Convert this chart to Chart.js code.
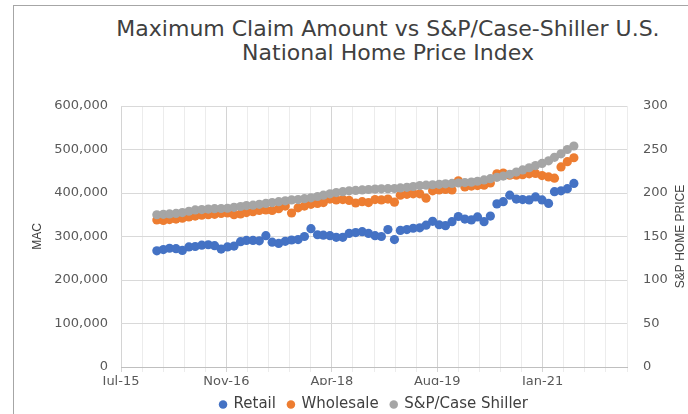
<!DOCTYPE html>
<html>
<head>
<meta charset="utf-8">
<script src="https://cdn.jsdelivr.net/npm/chart.js@4.4.1/dist/chart.umd.min.js"></script>
<style>
  html, body { margin: 0; padding: 0; background: #fff; overflow: hidden; }
  #wrap { position: relative; width: 688px; height: 422px; }
  #frame { position: absolute; left: 13px; top: 5px; width: 700px; height: 450px;
           border-left: 1px solid #a6a6a6; border-top: 1px solid #a6a6a6; }
  #title { position: absolute; left: 88px; right: 0; top: 17px; text-align: center;
           font: 22px/24px "DejaVu Sans", sans-serif; color: #404040; }
  canvas { position: absolute; left: 0; top: 0; }
</style>
</head>
<body>
<div id="wrap">
  <div id="frame"></div>
  <div id="title">Maximum Claim Amount vs S&amp;P/Case-Shiller U.S.<br>National Home Price Index</div>
  <canvas id="chart" width="688" height="422"></canvas>
</div>
<script>
// monthly values, Jan 2016 .. Jun 2021
const firstYear = 2016;
const retail = [267000, 270000, 273000, 272000, 268000, 276000, 277000, 280000, 281000, 279000,
    271000, 276000, 278000, 288000, 291000, 291000, 290000, 302000, 287000, 284000,
    289000, 292000, 293000, 300000, 318000, 304000, 303000, 302000, 298000, 298000,
    307000, 309000, 311000, 307000, 302000, 300000, 316000, 293000, 314000, 316000,
    319000, 320000, 326000, 335000, 327000, 325000, 334000, 346000, 340000, 338000,
    345000, 334000, 347000, 375000, 380000, 395000, 386000, 385000, 384000, 391000,
    384000, 376000, 403000, 405000, 410000, 422000];
const wholesale = [338000, 337000, 339000, 340000, 342000, 345000, 347000, 349000, 350000, 351000,
    353000, 354000, 350000, 352000, 355000, 357000, 360000, 361000, 360000, 364000,
    370000, 354000, 366000, 370000, 374000, 376000, 378000, 386000, 384000, 385000,
    383000, 377000, 380000, 378000, 385000, 384000, 386000, 379000, 395000, 397000,
    398000, 398000, 388000, 405000, 407000, 408000, 407000, 428000, 414000, 416000,
    417000, 418000, 423000, 444000, 446000, 441000, 441000, 442000, 444000, 445000,
    440000, 437000, 434000, 460000, 472000, 481000];
const caseShiller = [175, 175.5, 176, 176.5, 177.5, 179, 180.5, 181, 181.5, 182,
    182.2, 182.5, 183.5, 184.5, 185.5, 186, 187, 188, 189, 190,
    191, 192, 192.5, 193.5, 194.5, 196, 197.5, 199, 200.5, 201.5,
    202.5, 203, 203.5, 204, 204.5, 204.8, 205, 205.2, 205.8, 206.5,
    207.5, 208.5, 209, 209.5, 210, 210.5, 211, 211.5, 212, 212.5,
    213.5, 215, 216.5, 218, 219.5, 221.5, 224, 226.5, 229, 231.5,
    234, 237, 241, 245, 250, 254];

// x axis in Excel day serials
const xMin = 42200;
const xMax = 44600;
const xMajorTicks = [42200, 42700, 43200, 43700, 44200];
const xTickLabels = ['Jul-15', 'Nov-16', 'Apr-18', 'Aug-19', 'Jan-21'];
const leftTitle = 'MAC';
const rightTitle = 'S&P HOME PRICE';

function monthSerial(i) {
    return Date.UTC(firstYear, i, 1) / 86400000 + 25569;
}

function points(values) {
    return values.map((v, i) => ({ x: monthSerial(i), y: v }));
}

const tickFont = { family: 'DejaVu Sans', size: 13 };

const axisTitles = {
    id: 'axisTitles',
    afterDraw(chart) {
        const { ctx, chartArea } = chart;
        const cy = (chartArea.top + chartArea.bottom) / 2;
        ctx.save();
        ctx.fillStyle = '#404040';
        ctx.font = '12px "Liberation Sans Narrow", sans-serif';
        ctx.textAlign = 'center';
        ctx.textBaseline = 'middle';
        [[chartArea.left - 83, leftTitle], [chartArea.right + 54, rightTitle]].forEach(([x, t]) => {
            ctx.save();
            ctx.translate(x, cy);
            ctx.rotate(-Math.PI / 2);
            ctx.fillText(t, 0, 0);
            ctx.restore();
        });
        ctx.restore();
    }
};

new Chart(document.getElementById('chart'), {
    type: 'scatter',
    data: {
        datasets: [
            { label: 'Retail', data: points(retail), yAxisID: 'y', backgroundColor: '#4472C4', order: 3 },
            { label: 'Wholesale', data: points(wholesale), yAxisID: 'y', backgroundColor: '#ED7D31', order: 2 },
            { label: 'S&P/Case Shiller', data: points(caseShiller), yAxisID: 'y2', backgroundColor: '#A5A5A5', order: 1 }
        ]
    },
    options: {
        responsive: false,
        animation: false,
        layout: { padding: { top: 106, left: 0, right: 0, bottom: 0 } },
        elements: { point: { radius: 4.6, borderWidth: 0, hoverRadius: 4.6 } },
        plugins: {
            legend: {
                position: 'bottom',
                fullSize: false,
                labels: {
                    usePointStyle: true,
                    pointStyle: 'circle',
                    boxWidth: 6,
                    boxHeight: 6,
                    padding: 12,
                    color: '#404040',
                    font: { family: 'DejaVu Sans', size: 15 },
                    sort: (a, b) => a.datasetIndex - b.datasetIndex
                }
            },
            tooltip: { enabled: false }
        },
        scales: {
            x: {
                type: 'linear',
                min: xMin,
                max: xMax,
                afterBuildTicks: axis => {
                    const ticks = [];
                    for (let v = xMin; v <= xMax; v += 100) ticks.push({ value: v });
                    axis.ticks = ticks;
                },
                afterFit: s => { s.height = 18; },
                ticks: {
                    autoSkip: false,
                    maxRotation: 0,
                    padding: 2,
                    color: '#595959',
                    font: tickFont,
                    callback: v => {
                        const i = xMajorTicks.indexOf(v);
                        return i >= 0 ? xTickLabels[i] : '';
                    }
                },
                grid: {
                    color: c => (c.tick && xMajorTicks.includes(c.tick.value)) ? '#d4d4d4' : '#ececec',
                    tickLength: 5
                },
                border: { color: '#bfbfbf' }
            },
            y: {
                position: 'left',
                min: 0,
                max: 600000,
                afterFit: s => { s.width = 121; },
                ticks: {
                    stepSize: 100000,
                    padding: 13,
                    color: '#595959',
                    font: tickFont,
                    callback: v => v.toLocaleString('en-US')
                },
                grid: { color: '#d9d9d9', drawTicks: false },
                border: { display: false }
            },
            y2: {
                position: 'right',
                min: 0,
                max: 300,
                afterFit: s => { s.width = 61; },
                ticks: { stepSize: 50, padding: 16, color: '#595959', font: tickFont },
                grid: { display: false, drawTicks: false },
                border: { display: false }
            }
        }
    },
    plugins: [axisTitles]
});
</script>
</body>
</html>
